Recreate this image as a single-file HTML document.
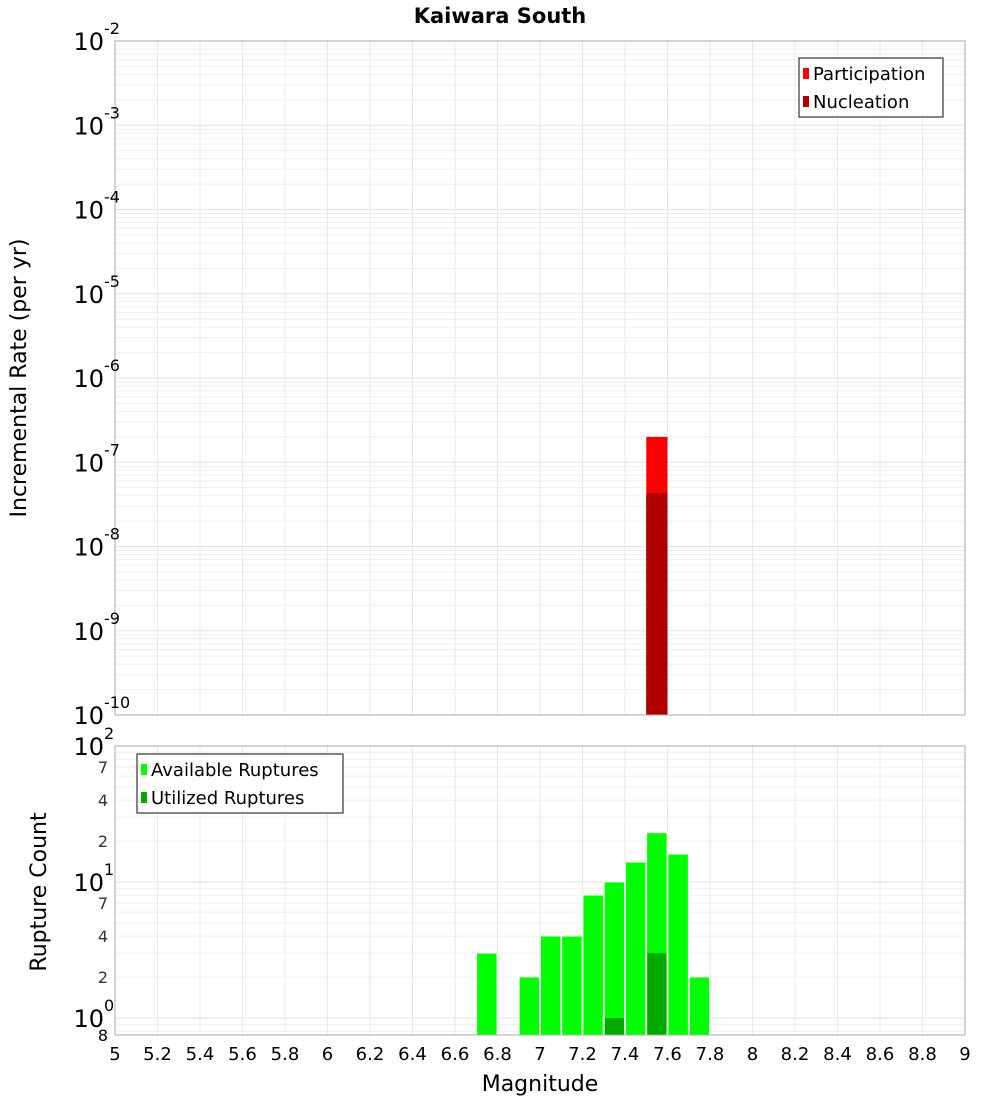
<!DOCTYPE html>
<html><head><meta charset="utf-8"><style>
body{margin:0;background:#fff;}
svg{display:block;font-family:"DejaVu Sans","Liberation Sans",sans-serif;}
</style></head><body>
<svg id="chart" width="1000" height="1100" xmlns="http://www.w3.org/2000/svg"></svg>
<script>
const magBins = [6.75, 6.95, 7.05, 7.15, 7.25, 7.35, 7.45, 7.55, 7.65, 7.75];
const availableCounts = [3, 2, 4, 4, 8, 10, 14, 23, 16, 2];
const utilizedBins = [7.35, 7.55];
const utilizedCounts = [1, 3];
const rateBins = [7.55];
const participationRates = [2e-7];
const nucleationRates = [4.3e-8];
const xTicks = [5,5.2,5.4,5.6,5.8,6,6.2,6.4,6.6,6.8,7,7.2,7.4,7.6,7.8,8,8.2,8.4,8.6,8.8,9];
const topExps = [-2,-3,-4,-5,-6,-7,-8,-9,-10];
const botMinor = [7,4,2];

const NS="http://www.w3.org/2000/svg";
const svg=document.getElementById('chart');
function mk(t,a,p){const e=document.createElementNS(NS,t);for(const k in a)e.setAttribute(k,a[k]);(p||svg).appendChild(e);return e;}
const L=115,R=965,T1=41,B1=715,T2=746,B2=1035;
const xs=m=>L+(m-5)/4*(R-L);
const y1=v=>T1+(-2-Math.log10(v))/8*(B1-T1);
const botMin=0.75,botMax=100;
const y2=v=>T2+(Math.log10(botMax)-Math.log10(v))/(Math.log10(botMax)-Math.log10(botMin))*(B2-T2);

// grids
function grid(T,B,yf,lo,hi){
  for(let e=lo;e<hi;e++)for(let k=1;k<10;k++){const v=k*Math.pow(10,e);const y=yf(v);if(y<T||y>B)continue;
    const g=mk('line',{x1:L,x2:R,y1:y,y2:y,stroke:k==1?'#e2e2e2':'#efefef','stroke-width':1});
    }
  xTicks.forEach(t=>{const x=xs(t);const g=mk('line',{x1:x,x2:x,y1:T,y2:B,stroke:'#e8e8e8'});
    });
}
grid(T1,B1,y1,-10,-2);
grid(T2,B2,y2,-1,2);

// top bars
rateBins.forEach((m,i)=>{
  const r=mk('rect',{x:xs(m-0.05),y:y1(participationRates[i]),width:xs(m+0.05)-xs(m-0.05),height:B1-y1(participationRates[i]),fill:'#ff0000'});
  
  const n=mk('rect',{x:xs(m-0.05),y:y1(nucleationRates[i]),width:xs(m+0.05)-xs(m-0.05),height:B1-y1(nucleationRates[i]),fill:'#b00000'});
  
});
// bottom bars
magBins.forEach((m,i)=>{
  const y=y2(availableCounts[i]);
  const r=mk('rect',{x:xs(m-0.05)+0.5,y:y,width:xs(m+0.05)-xs(m-0.05)-1,height:B2-y,fill:'#00ff00',stroke:'#fff','stroke-width':0.8});
  
});
utilizedBins.forEach((m,i)=>{
  const y=y2(utilizedCounts[i]);
  const r=mk('rect',{x:xs(m-0.05)+1,y:y,width:xs(m+0.05)-xs(m-0.05)-2,height:B2-y,fill:'#00aa00'});
  
});
// frames
[[T1,B1,'top-plot-frame'],[T2,B2,'bottom-plot-frame']].forEach(([T,B,n])=>{
  const f=mk('rect',{x:L,y:T,width:R-L,height:B-T,fill:'none',stroke:'#aaaaaa'});
  });

// top y labels
topExps.forEach(e=>{const y=y1(Math.pow(10,e));
  const t=mk('text',{x:104,y:y+9,'font-size':24,'text-anchor':'end',fill:'#000'});
  
  t.textContent='10';
  const s=mk('text',{x:104,y:y-7,'font-size':16,fill:'#000'});
  
  s.textContent=String(e);
});
// bottom y labels
[[2,100],[1,10],[0,1]].forEach(([e,v])=>{const y=y2(v);
  const t=mk('text',{x:104,y:y+9,'font-size':24,'text-anchor':'end',fill:'#000'});
  
  t.textContent='10';
  const s=mk('text',{x:104,y:y-7,'font-size':16,fill:'#000'});
  
  s.textContent=String(e);
});
[10,1].forEach(d=>botMinor.forEach(k=>{const y=y2(k*d);
  const t=mk('text',{x:108,y:y+6,'font-size':16,'text-anchor':'end',fill:'#333'});
  
  t.textContent=String(k);}));
const e8=mk('text',{x:108,y:1041,'font-size':16,'text-anchor':'end',fill:'#000'});

e8.textContent='8';

// x labels
xTicks.forEach(t=>{const x=mk('text',{x:xs(t),y:1060,'font-size':18,'text-anchor':'middle',fill:'#000'});
  
  x.textContent=String(t);});

// titles
function txt(str,a,name){const t=mk('text',a);t.textContent=str;return t;}
txt('Kaiwara South',{x:500,y:23,'font-size':21,'font-weight':'bold','text-anchor':'middle'},'chart-title');
txt('Magnitude',{x:540,y:1091,'font-size':22,'text-anchor':'middle'},'x-axis-title');
txt('Incremental Rate (per yr)',{x:0,y:0,'font-size':22,'text-anchor':'middle',transform:'translate(26,378) rotate(-90)'},'top-y-axis-title');
txt('Rupture Count',{x:0,y:0,'font-size':22,'text-anchor':'middle',transform:'translate(46,892) rotate(-90)'},'bottom-y-axis-title');

// legends
function legend(x,y,w,items,name){
  const g=mk('g',{});
  mk('rect',{x:x,y:y,width:w,height:59,fill:'#fff',stroke:'#333','stroke-width':1.2},g);
  items.forEach((it,i)=>{const cy=y+15+i*28;
    mk('rect',{x:x+4,y:cy-5,width:6,height:11,fill:it[1]},g);
    const t=mk('text',{x:x+14,y:cy+7,'font-size':18,fill:'#000'},g);
    
    t.textContent=it[0];});
}
legend(799,58,144,[['Participation','#ff0000'],['Nucleation','#b00000']],'top-legend');
legend(137,754,206,[['Available Ruptures','#00ff00'],['Utilized Ruptures','#00aa00']],'bottom-legend');
</script>
</body></html>
